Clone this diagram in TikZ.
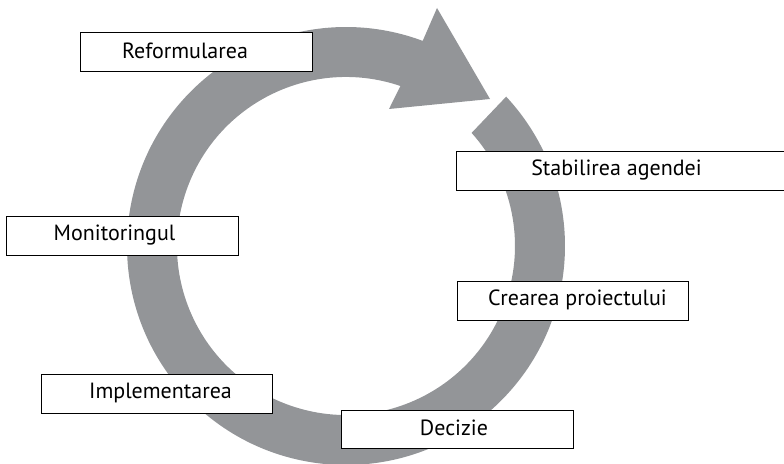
\documentclass[tikz,border=0pt]{standalone}
\usepackage{fontspec}
\setmainfont{PT Sans}
\definecolor{ringgray}{RGB}{147,149,152}
\begin{document}
\begin{tikzpicture}[x=1pt,y=1pt,
  box/.style={draw=black, line width=1pt, fill=white, rectangle, inner sep=0pt, minimum width=231.5pt, minimum height=38.8pt},
  lbl/.style={inner sep=0pt, font=\fontsize{22}{26}\selectfont, anchor=center}]
\useasboundingbox (0,0) rectangle (784,463);
\clip (0,0) rectangle (784,463);
\coordinate (C) at (346,217);
\coordinate (tip) at (490,364);
\coordinate (barbTop) at (437,455);
\coordinate (barbBot) at (389,354);
\fill[ringgray] ([shift={(43:219pt)}]C) arc[start angle=43, end angle=-290.5, radius=219pt]
  -- (barbTop) -- (tip) -- (barbBot)
  -- ([shift={(-288.8:169pt)}]C) arc[start angle=-288.8, end angle=42, radius=169pt] -- cycle;
% boxes
\node[box] (bRef) at (196.25,411.3) {};
\node[box, minimum width=340pt] (bSta) at (626.5,292) {};
\node[box] (bMon) at (122.5,226.8) {};
\node[box] (bCre) at (572.75,161.8) {};
\node[box] (bImp) at (157,69.2) {};
\node[box] (bDec) at (457.5,33.5) {};
% labels
\node[lbl] (ref) at (185,412.5) {Reformularea};
\node[lbl] (sta) at (616.5,293) {Stabilirea agendei};
\node[lbl] (mon) at (114.5,228) {Monitoringul};
\node[lbl] (cre) at (577.5,163) {Crearea proiectului};
\node[lbl] (imp) at (160.5,70) {Implementarea};
\node[lbl] (dec) at (454,35) {Decizie};
\end{tikzpicture}
\end{document}
